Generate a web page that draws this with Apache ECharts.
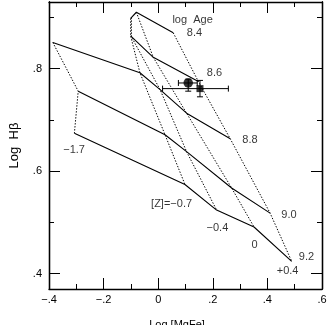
<!DOCTYPE html>
<html>
<head>
<meta charset="utf-8">
<script src="https://cdn.jsdelivr.net/npm/echarts@6/dist/echarts.min.js"></script>
<style>
html,body{margin:0;padding:0;background:#fff;}
#c{width:327px;height:325px;}
</style>
</head>
<body>
<div id="c"></div>
<script>
// Grid of model predictions: each age line lists points for [Z] = -1.7, -0.7, -0.4, 0, +0.4
const metallicities = ["-1.7", "-0.7", "-0.4", "0", "+0.4"];
const ages = ["8.4", "8.6", "8.8", "9.0", "9.2"];
const age84 = [null, [-0.101, 0.898], [-0.098, 0.900], [-0.080, 0.910], [0.055, 0.870]];
const age86 = [null, [-0.101, 0.864], [-0.098, 0.862], [-0.018, 0.822], [0.147, 0.775]];
const age88 = [[-0.386, 0.851], [-0.067, 0.792], [0.007, 0.759], [0.104, 0.713], [0.264, 0.663]];
const age90 = [[-0.293, 0.756], [0.025, 0.671], [0.104, 0.638], [0.269, 0.567], [0.410, 0.518]];
const age92 = [[-0.307, 0.674], [0.098, 0.574], [0.214, 0.524], [0.351, 0.491], [0.489, 0.424]];
const ageLines = [age84, age86, age88, age90, age92];

// Observed points: [x, y, xlo, xhi, ylo, yhi]
const circlePoint = [0.110, 0.772, 0.074, 0.143, 0.756, 0.7795];
const squarePoint = [0.153, 0.761, 0.016, 0.257, 0.745, 0.777];

// Annotations (text, position in data units)
const ageLabelPos = [[0.133, 0.869], [0.206, 0.791], [0.336, 0.661], [0.479, 0.514], [0.543, 0.433]];
const ageTitle = { name: "log  Age", value: [0.126, 0.894] };
const zLabels = ["\u22121.7", "[Z]=\u22120.7", "\u22120.4", "0", "+0.4"];
const zLabelPos = [[-0.308, 0.641], [0.049, 0.536], [0.217, 0.489], [0.353, 0.456], [0.474, 0.405]];

// Axis ticks
const xMin = -0.4, xMax = 0.6, xStep = 0.2;
const yMin = 0.37, yMax = 0.93;
const yMajor = [0.4, 0.6, 0.8];
const yMinor = [0.5, 0.7, 0.9];

const FONT = "Liberation Sans, Arial, Helvetica, sans-serif";
const fmtX = v => {
  if (Math.abs(v) < 1e-9) return "0";
  const s = Math.abs(v).toFixed(1).replace(/^0/, "");
  return v < 0 ? "\u2212" + s : s;
};
const fmtY = v => v.toFixed(1).replace(/^0/, "");

const axisLine = { show: true, onZero: false, lineStyle: { color: "#000", width: 1.3 } };

function xAx(pos, labels) {
  return {
    type: "value", min: xMin, max: xMax, interval: xStep, position: pos,
    axisLine: axisLine,
    axisTick: { show: true, inside: true, length: 11, lineStyle: { color: "#000", width: 1 } },
    minorTick: { show: true, splitNumber: 2, length: 5, lineStyle: { color: "#000", width: 1 } },
    splitLine: { show: false }, minorSplitLine: { show: false },
    axisLabel: { show: labels, formatter: fmtX, color: "#000", fontSize: 11, fontFamily: FONT, margin: 5 },
    name: labels ? "Log [MgFe]" : "",
    nameLocation: "middle", nameGap: 30, nameMoveOverlap: false,
    nameTextStyle: { color: "#000", fontSize: 11, fontFamily: FONT, padding: [0, 17, 0, 0] }
  };
}
function yAx(pos, vals, len, labels) {
  return {
    type: "value", min: yMin, max: yMax, position: pos,
    axisLine: axisLine,
    axisTick: { show: true, inside: true, length: len, customValues: vals, lineStyle: { color: "#000", width: 1 } },
    splitLine: { show: false },
    axisLabel: { show: labels, customValues: vals, formatter: fmtY, color: "#000", fontSize: 11, fontFamily: FONT, margin: 7 },
    name: labels ? "Log  H\u03b2" : "",
    nameLocation: "middle", nameGap: 28.5, nameRotate: 90, nameMoveOverlap: false,
    nameTextStyle: { color: "#000", fontSize: 13, fontFamily: FONT }
  };
}

const series = [];
ageLines.forEach((line, i) => {
  series.push({
    type: "line", name: "age " + ages[i], data: line.filter(p => p),
    symbol: "none", silent: true,
    lineStyle: { color: "#000", width: 1.1 }, z: 3
  });
});
metallicities.forEach((z, j) => {
  series.push({
    type: "line", name: "Z " + z, data: ageLines.map(l => l[j]).filter(p => p),
    symbol: "none", silent: true,
    lineStyle: { color: "#000", width: 1, type: [1.4, 1.6] }, z: 2
  });
});

// error bars
series.push({
  type: "custom", data: [circlePoint, squarePoint], z: 5,
  renderItem: function (params, api) {
    const c = api.coord([api.value(0), api.value(1)]);
    const xl = api.coord([api.value(2), api.value(1)]);
    const xh = api.coord([api.value(3), api.value(1)]);
    const yl = api.coord([api.value(0), api.value(4)]);
    const yh = api.coord([api.value(0), api.value(5)]);
    const cap = 3;
    const st = { stroke: "#000", lineWidth: 1 };
    const L = (x1, y1, x2, y2) => ({ type: "line", shape: { x1, y1, x2, y2 }, style: st });
    return {
      type: "group",
      children: [
        L(xl[0], c[1], xh[0], c[1]),
        L(xl[0], c[1] - cap, xl[0], c[1] + cap),
        L(xh[0], c[1] - cap, xh[0], c[1] + cap),
        L(c[0], yl[1], c[0], yh[1]),
        L(c[0] - cap, yl[1], c[0] + cap, yl[1]),
        L(c[0] - cap, yh[1], c[0] + cap, yh[1])
      ]
    };
  }
});
series.push({
  type: "scatter", data: [[circlePoint[0], circlePoint[1]]], symbol: "circle", symbolSize: 9.5,
  itemStyle: { color: "#000" }, z: 6
});
series.push({
  type: "scatter", data: [[squarePoint[0], squarePoint[1]]], symbol: "rect", symbolSize: 7,
  itemStyle: { color: "#000" }, z: 6
});

// text labels
const textData = [ageTitle]
  .concat(ages.map((a, i) => ({ name: a, value: ageLabelPos[i] })))
  .concat(zLabels.map((t, i) => ({ name: t, value: zLabelPos[i] })));
series.push({
  type: "scatter", data: textData, symbolSize: 0, silent: true, z: 7,
  label: { show: true, position: "inside", formatter: "{b}", color: "#000", fontSize: 11, fontFamily: FONT }
});

const chart = echarts.init(document.getElementById("c"), null, { renderer: "canvas" });
chart.setOption({
  animation: false,
  backgroundColor: "#fff",
  grid: { left: 49, right: 5, top: 2, bottom: 36, containLabel: false, outerBoundsMode: "none" },
  xAxis: [xAx("bottom", true), xAx("top", false)],
  yAxis: [yAx("left", yMajor, 11, true), yAx("left", yMinor, 5, false), yAx("right", yMajor, 11, false), yAx("right", yMinor, 5, false)],
  series: series
});
</script>
</body>
</html>
